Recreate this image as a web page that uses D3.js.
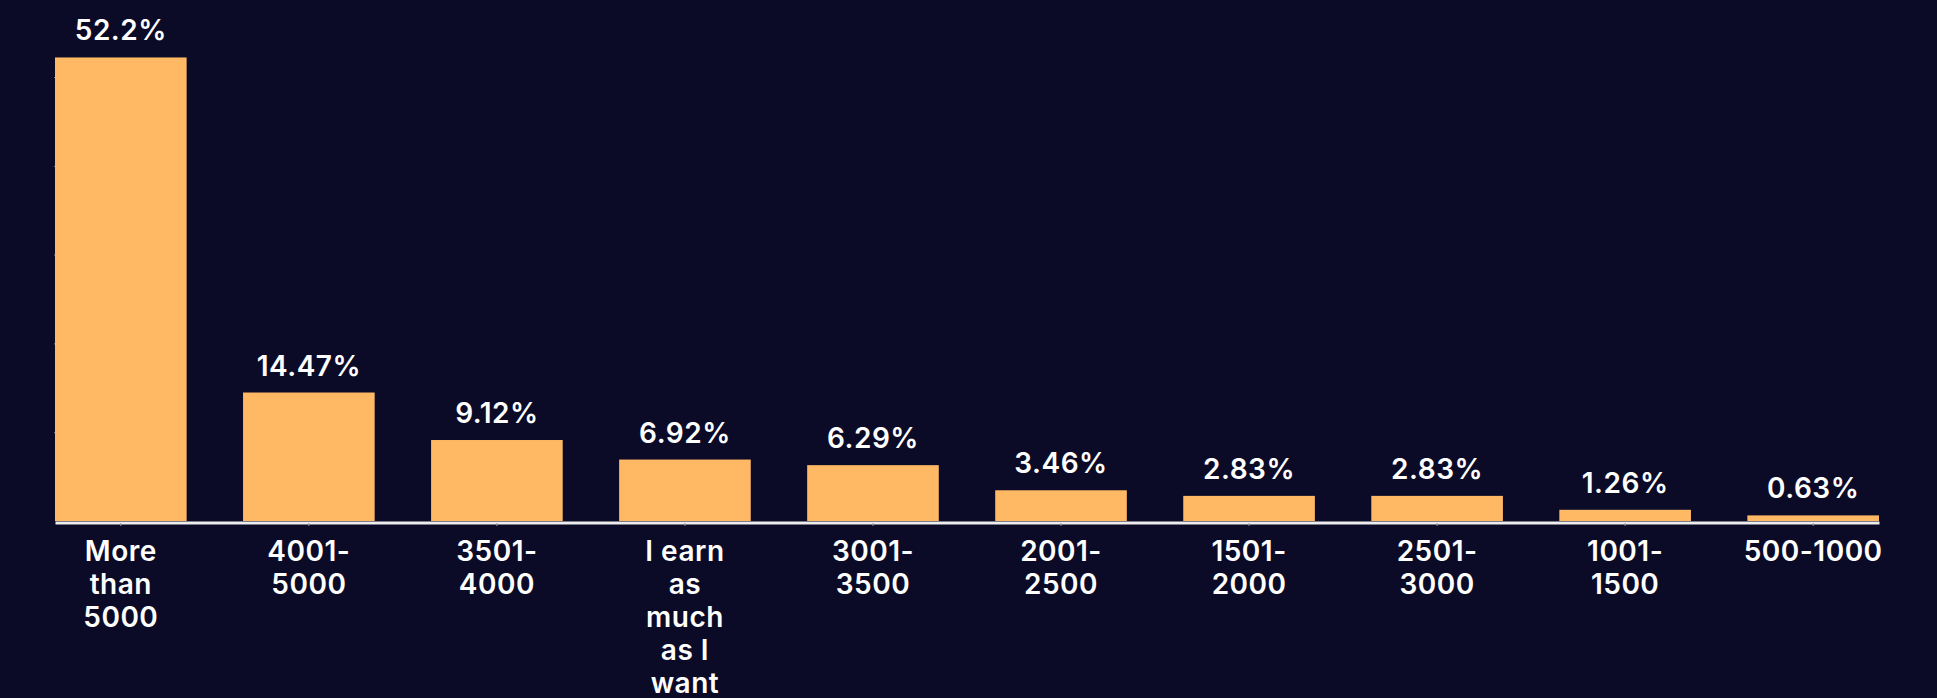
<!DOCTYPE html>
<html>
<head>
<meta charset="utf-8">
<script src="https://cdn.jsdelivr.net/npm/d3@7"></script>
<style>
	html, body { margin: 0; padding: 0; background: #0b0b28; }
	svg { display: block; }
</style>
</head>
<body>
<svg id="chart"></svg>
<script>
// data
const categories = ['More than 5000','4001-5000','3501-4000','I earn as much as I want','3001-3500','2001-2500','1501-2000','2501-3000','1001-1500','500-1000']
const values = [52.2, 14.47, 9.12, 6.92, 6.29, 3.46, 2.83, 2.83, 1.26, 0.63]
const valueLabels = ['52.2%','14.47%','9.12%','6.92%','6.29%','3.46%','2.83%','2.83%','1.26%','0.63%']
const tickLabels = [
	['More','than','5000'],
	['4001-','5000'],
	['3501-','4000'],
	['I earn','as','much','as I','want'],
	['3001-','3500'],
	['2001-','2500'],
	['1501-','2000'],
	['2501-','3000'],
	['1001-','1500'],
	['500-1000'],
]
const yTicks = [0, 10, 20, 30, 40, 50]

let outer_width = 1937
let outer_height = 698

let plot = {
	left: 55,
	right: 1879,
	bottom: 521,
	top50: 77 // where 50% sits
}

const font = 'Inter, "Open Sans", sans-serif'

const svg = d3.select('#chart')
	.attr('width', outer_width)
	.attr('height', outer_height)
	.style('background', '#0b0b28')

const xScale = d3.scaleBand()
	.domain(categories)
	.range([plot.left, plot.right])
	.paddingInner(0.3)
	.paddingOuter(0)

const yScale = d3.scaleLinear()
	.domain([0, 50])
	.range([plot.bottom, plot.top50])

// faint y ticks, no labels
const axisY = svg.append('g')
	.attr('transform', `translate(${plot.left + 1},0)`)
	.call(d3.axisLeft(yScale).tickValues(yTicks.slice(1)).tickSize(2).tickFormat(''))
axisY.select('.domain').remove()
axisY.selectAll('line').attr('stroke', '#8a8378')

const bars = svg.append('g')
	.selectAll('.bar')
	.data(categories)
	.enter()
	.append('rect')
	.classed('bar', true)
	.attr('fill', '#ffb864')
	.attr('x', d => xScale(d))
	.attr('width', xScale.bandwidth())
	.attr('y', (d, i) => yScale(values[i]))
	.attr('height', (d, i) => plot.bottom - yScale(values[i]))

const labels = svg.append('g')
	.selectAll('.label')
	.data(categories)
	.enter()
	.append('text')
	.classed('label', true)
	.text((d, i) => valueLabels[i])
	.attr('x', d => xScale(d) + xScale.bandwidth() / 2)
	.attr('y', (d, i) => yScale(values[i]) - 17)
	.attr('text-anchor', 'middle')
	.attr('fill', '#ffffff')
	.attr('font-family', font)
	.attr('font-weight', 600)
	.attr('font-size', '28px')
	.attr('letter-spacing', '0.5px')

// x axis
const axisX = svg.append('g')
	.attr('transform', `translate(0,${plot.bottom})`)
	.call(d3.axisBottom(xScale).tickSize(4).tickSizeOuter(0).tickFormat(''))
axisX.select('.domain')
	.attr('stroke', '#ededed')
	.attr('stroke-width', 3)
	.attr('transform', 'translate(0,1.5)')
axisX.selectAll('.tick line')
	.attr('stroke', '#9a9a9a')
	.attr('y1', 2)
	.attr('y2', 5)

const tickText = svg.append('g')
	.selectAll('.tickLabel')
	.data(categories)
	.enter()
	.append('text')
	.classed('tickLabel', true)
	.attr('x', d => xScale(d) + xScale.bandwidth() / 2)
	.attr('y', 561)
	.attr('text-anchor', 'middle')
	.attr('fill', '#ffffff')
	.attr('font-family', font)
	.attr('font-weight', 600)
	.attr('font-size', '28px')
	.attr('letter-spacing', '0.5px')

tickText.selectAll('tspan')
	.data((d, i) => tickLabels[i])
	.enter()
	.append('tspan')
	.attr('x', function(){ return d3.select(this.parentNode).attr('x') })
	.attr('dy', (d, i) => i == 0 ? 0 : 33)
	.text(d => d)
</script>
</body>
</html>
